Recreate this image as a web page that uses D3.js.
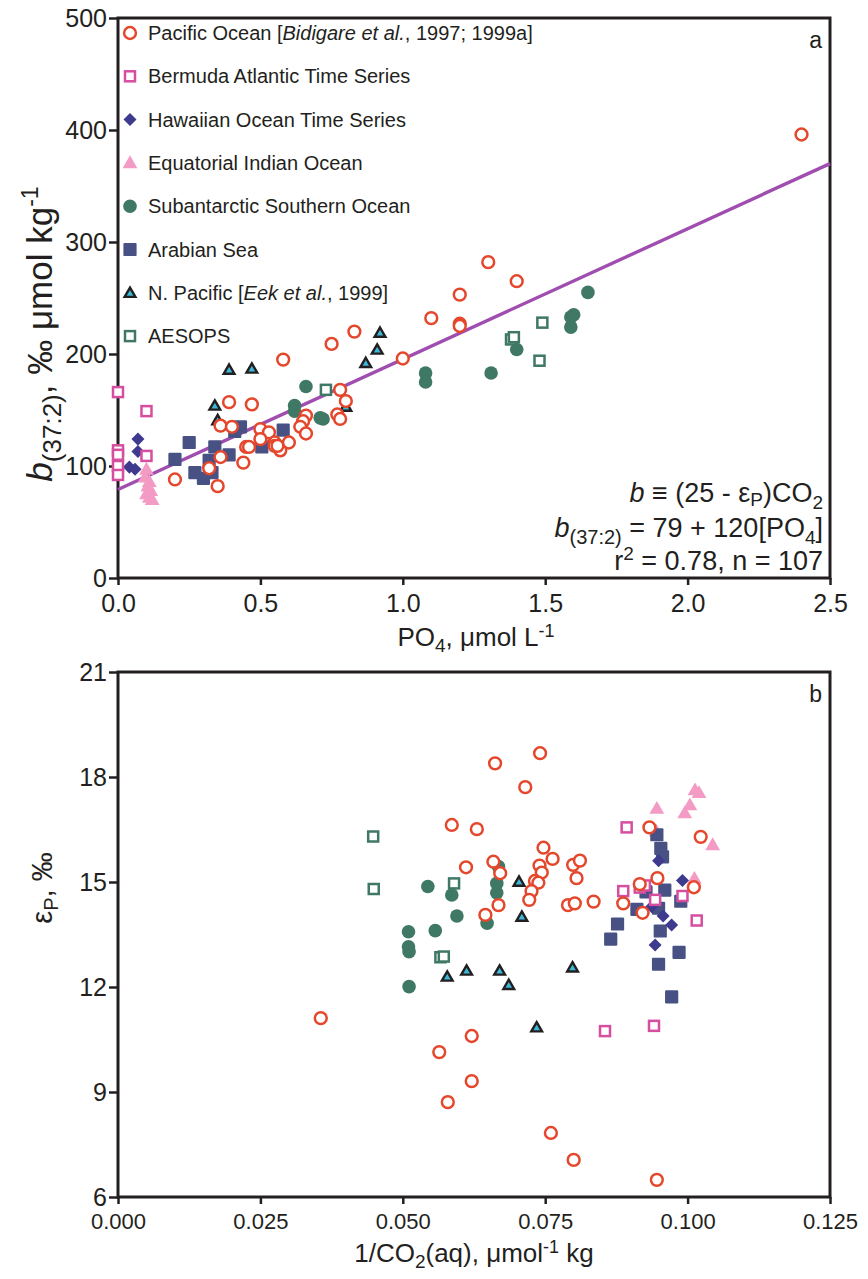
<!DOCTYPE html>
<html>
<head>
<meta charset="utf-8">
<script src="https://cdn.jsdelivr.net/npm/d3@7"></script>
<style>
  body { margin: 0; background: #fff; }
  svg { font-family: "Liberation Sans", Arial, Helvetica, sans-serif; }
  .tick text { fill: #231f20; }
  .tick line { stroke: #231f20; stroke-width: 2.5; }
</style>
</head>
<body>
<svg id="chart" width="868" height="1279"></svg>
<script>
// ---- data ----
// panel a: PO4 (umol/L) vs b(37:2)
const pacificA = [[2.40,396],[1.30,282],[1.40,265],[1.20,253],[1.10,232],[1.20,227],[1.20,225],[0.83,220],
  [0.75,209],[0.58,195],[1.00,196],[0.39,157],[0.47,155],[0.78,168],[0.80,158],[0.77,146],[0.78,142],
  [0.36,136],[0.40,135],[0.66,145],[0.65,140],[0.64,135],[0.66,129],[0.50,133],[0.53,130],[0.50,124],
  [0.45,117],[0.46,117],[0.55,121],[0.55,118],[0.57,114],[0.60,121],[0.56,118],[0.36,108],[0.44,103],
  [0.32,98],[0.20,88],[0.35,82]];
const bermudaA = [[0,166],[0.10,149],[0,114],[0,110],[0,100],[0,92],[0.10,109]];
const hawaiiA = [[0.07,124],[0.07,113],[0.04,99],[0.06,97]];
const indianA = [[0.10,97],[0.095,90],[0.11,86],[0.105,82],[0.115,78],[0.10,75],[0.11,72],[0.12,70]];
const southernA = [[0.66,171],[0.62,154],[0.62,149],[0.71,143],[0.72,142],[1.08,183],[1.08,175],
  [1.31,183],[1.40,204],[1.59,224],[1.59,233],[1.60,235],[1.65,255]];
const arabianA = [[0.25,121],[0.34,117],[0.41,131],[0.43,135],[0.58,132],[0.505,117],[0.39,110],
  [0.32,105],[0.33,94],[0.27,94],[0.30,89],[0.20,106]];
const nPacificA = [[0.39,186],[0.47,187],[0.34,154],[0.35,141],[0.92,219],[0.91,204],[0.87,192],[0.80,153]];
const aesopsA = [[0.73,168],[1.38,213],[1.39,215],[1.49,228],[1.48,194]];
const fitLine = [[0, 79], [2.5, 370]];

// panel b: 1/CO2(aq) vs epsilon_P
const pacificB = [[0.0356,11.11],[0.0564,10.14],[0.0579,8.71],[0.0621,10.6],[0.0621,9.31],[0.0662,18.39],
  [0.0741,18.68],[0.0715,17.71],[0.0760,7.83],[0.0800,7.06],[0.0946,6.49],[0.0586,16.63],[0.0630,16.51],
  [0.0611,15.42],[0.0659,15.58],[0.0671,15.25],[0.0645,14.06],[0.0668,14.34],[0.0747,15.98],[0.0763,15.66],
  [0.0740,15.47],[0.0744,15.27],[0.0732,15.03],[0.0738,14.98],[0.0726,14.74],[0.0722,14.49],[0.0799,15.49],
  [0.0811,15.61],[0.0805,15.11],[0.0790,14.34],[0.0802,14.39],[0.0835,14.44],[0.0933,16.56],[0.1023,16.29],
  [0.0947,15.11],[0.0916,14.94],[0.0887,14.39],[0.0921,14.12],[0.1011,14.85]];
const bermudaB = [[0.0893,16.56],[0.0887,14.74],[0.0916,14.84],[0.0925,14.9],[0.0943,14.49],[0.0991,14.6],
  [0.1016,13.9],[0.0855,10.74],[0.0941,10.89]];
const hawaiiB = [[0.0949,15.61],[0.0991,15.04],[0.0957,14.03],[0.0972,13.77],[0.0943,13.2],[0.0937,14.29]];
const indianB = [[0.0946,17.1],[0.1013,17.63],[0.1020,17.55],[0.1004,17.2],[0.0995,16.97],[0.1044,16.06],
  [0.0945,16.45],[0.1012,15.1]];
const southernB = [[0.0544,14.87],[0.0586,14.63],[0.0595,14.03],[0.0510,13.58],[0.0557,13.61],[0.0510,13.15],
  [0.0511,13.01],[0.0511,12.01],[0.0648,13.82],[0.0665,14.96],[0.0665,14.69],[0.0668,15.44]];
const aesopsB = [[0.0448,16.3],[0.0449,14.8],[0.0590,14.96],[0.0566,12.85],[0.0572,12.87]];
const nPacificB = [[0.0578,12.3],[0.0612,12.47],[0.0670,12.47],[0.0686,12.06],[0.0704,15.01],[0.0709,14.01],
  [0.0798,12.56],[0.0735,10.85]];
const arabianB = [[0.0946,16.35],[0.0953,15.96],[0.0956,15.72],[0.0960,14.77],[0.0988,14.45],[0.0911,14.22],
  [0.0927,14.72],[0.0949,14.25],[0.0877,13.8],[0.0865,13.37],[0.0952,13.6],[0.0985,12.99],[0.0949,12.65],
  [0.0972,11.72]];

const ticksA_x = [0, 0.5, 1.0, 1.5, 2.0, 2.5];
const ticksA_y = [0, 100, 200, 300, 400, 500];
const ticksB_x = [0, 0.025, 0.05, 0.075, 0.1, 0.125];
const ticksB_y = [6, 9, 12, 15, 18, 21];

// ---- series styles (legend order) ----
const series = [
  { key: "pacific",  label: null, shape: "circle", fill: "#fff", stroke: "#e4472b" },
  { key: "bermuda",  label: "Bermuda Atlantic Time Series", shape: "square", fill: "#fff", stroke: "#d64ea0" },
  { key: "hawaii",   label: "Hawaiian Ocean Time Series", shape: "diamond", fill: "#3e3a8e", stroke: "none" },
  { key: "indian",   label: "Equatorial Indian Ocean", shape: "triangle", fill: "#f39bc4", stroke: "none" },
  { key: "southern", label: "Subantarctic Southern Ocean", shape: "dot", fill: "#3f7865", stroke: "none" },
  { key: "arabian",  label: "Arabian Sea", shape: "fsquare", fill: "#485184", stroke: "none" },
  { key: "npacific", label: null, shape: "triangle", fill: "#3cb9da", stroke: "#231f20" },
  { key: "aesops",   label: "AESOPS", shape: "square", fill: "#fff", stroke: "#3f7865" }
];
const dataA = { pacific: pacificA, bermuda: bermudaA, hawaii: hawaiiA, indian: indianA,
  southern: southernA, arabian: arabianA, npacific: nPacificA, aesops: aesopsA };
const dataB = { pacific: pacificB, bermuda: bermudaB, hawaii: hawaiiB, indian: indianB,
  southern: southernB, arabian: arabianB, npacific: nPacificB, aesops: aesopsB };
// drawing order so that the open red circles sit on top
const drawOrder = ["indian", "arabian", "hawaii", "southern", "aesops", "npacific", "bermuda", "pacific"];
const styleOf = Object.fromEntries(series.map(s => [s.key, s]));

const svg = d3.select("#chart");
const ink = "#231f20";

function drawMarker(g, shape, fill, stroke) {
  if (shape === "circle") {
    g.append("circle").attr("r", 5.9).attr("fill", fill).attr("stroke", stroke).attr("stroke-width", 2.5);
  } else if (shape === "dot") {
    g.append("circle").attr("r", 6.8).attr("fill", fill);
  } else if (shape === "square") {
    g.append("rect").attr("x", -5).attr("y", -5).attr("width", 10).attr("height", 10)
      .attr("fill", fill).attr("stroke", stroke).attr("stroke-width", 2.5);
  } else if (shape === "fsquare") {
    g.append("rect").attr("x", -6.6).attr("y", -6.6).attr("width", 13.2).attr("height", 13.2)
      .attr("rx", 1.2).attr("fill", fill);
  } else if (shape === "diamond") {
    g.append("rect").attr("x", -4.6).attr("y", -4.6).attr("width", 9.2).attr("height", 9.2)
      .attr("transform", "rotate(45)").attr("fill", fill);
  } else if (shape === "triangle") {
    const outlined = stroke !== "none";
    const sym = d3.symbol().type(d3.symbolTriangle).size(outlined ? 50 : 95);
    g.append("path").attr("d", sym()).attr("transform", "translate(0,1)")
      .attr("fill", fill).attr("stroke", stroke).attr("stroke-width", outlined ? 2.4 : 0)
      .attr("stroke-linejoin", "miter");
  }
}

function panel(opts) {
  const { x, y, xticks, yticks, xfmt, yfmt, data } = opts;
  const g = svg.append("g");
  const [x0, x1] = x.range();
  const [y0, y1] = y.range();

  g.append("g").attr("transform", `translate(${x0},0)`)
    .call(d3.axisLeft(y).tickValues(yticks).tickFormat(yfmt).tickSize(9).tickPadding(2).tickSizeOuter(0))
    .call(a => a.select(".domain").remove())
    .call(a => a.selectAll("text").style("font-size", opts.yFont + "px"));
  g.append("g").attr("transform", `translate(0,${y0})`)
    .call(d3.axisBottom(x).tickValues(xticks).tickFormat(xfmt).tickSize(7).tickPadding(opts.xPad).tickSizeOuter(0))
    .call(a => a.select(".domain").remove())
    .call(a => a.selectAll("text").style("font-size", opts.xFont + "px"));

  g.append("rect").attr("x", x0).attr("y", y1).attr("width", x1 - x0).attr("height", y0 - y1)
    .attr("fill", "none").attr("stroke", ink).attr("stroke-width", 3);

  if (opts.fit) {
    g.append("line")
      .attr("x1", x(opts.fit[0][0])).attr("y1", y(opts.fit[0][1]))
      .attr("x2", x(opts.fit[1][0])).attr("y2", y(opts.fit[1][1]))
      .attr("stroke", "#a04db0").attr("stroke-width", 3.4);
  }

  drawOrder.forEach(k => {
    const s = styleOf[k];
    data[k].forEach(d => {
      const m = g.append("g").attr("transform", `translate(${x(d[0])},${y(d[1])})`);
      drawMarker(m, s.shape, s.fill, s.stroke);
    });
  });
  return g;
}

// ---- panel a ----
const xA = d3.scaleLinear().domain([0, 2.5]).range([118, 830]);
const yA = d3.scaleLinear().domain([0, 500]).range([578, 18]);
panel({ x: xA, y: yA, xticks: ticksA_x, yticks: ticksA_y, xfmt: d3.format(".1f"), yfmt: d3.format("d"),
  data: dataA, fit: fitLine, xFont: 25, yFont: 25, xPad: 9 });

// ---- panel b ----
const xB = d3.scaleLinear().domain([0, 0.125]).range([118, 830]);
const yB = d3.scaleLinear().domain([6, 21]).range([1197, 672]);
panel({ x: xB, y: yB, xticks: ticksB_x, yticks: ticksB_y, xfmt: d3.format(".3f"), yfmt: d3.format("d"),
  data: dataB, xFont: 22, yFont: 25, xPad: 9 });

// ---- legend ----
const legend = svg.append("g").attr("font-size", 20).attr("fill", ink);
series.forEach((s, i) => {
  const cy = 33 + i * 43.3;
  const m = legend.append("g").attr("transform", `translate(130,${cy})`);
  drawMarker(m, s.shape, s.fill, s.stroke);
  const t = legend.append("text").attr("x", 148).attr("y", cy + 7);
  if (s.key === "pacific") {
    t.append("tspan").text("Pacific Ocean [");
    t.append("tspan").attr("font-style", "italic").text("Bidigare et al.");
    t.append("tspan").text(", 1997; 1999a]");
  } else if (s.key === "npacific") {
    t.append("tspan").text("N. Pacific [");
    t.append("tspan").attr("font-style", "italic").text("Eek et al.");
    t.append("tspan").text(", 1999]");
  } else {
    t.text(s.label);
  }
});

// ---- panel letters ----
svg.append("text").attr("x", 822).attr("y", 48).attr("text-anchor", "end").attr("font-size", 23)
  .attr("fill", ink).text("a");
svg.append("text").attr("x", 822).attr("y", 702).attr("text-anchor", "end").attr("font-size", 23)
  .attr("fill", ink).text("b");

// ---- equation block ----
const eq = svg.append("g").attr("font-size", 27).attr("fill", ink).attr("text-anchor", "end");
const e1 = eq.append("text").attr("x", 823).attr("y", 502);
e1.append("tspan").attr("font-style", "italic").text("b");
e1.append("tspan").text(" ≡ (25 - ε");
e1.append("tspan").attr("font-size", 19).attr("dy", 4).text("P");
e1.append("tspan").attr("dy", -4).text(")CO");
e1.append("tspan").attr("font-size", 19).attr("dy", 7).text("2");
const e2 = eq.append("text").attr("x", 823).attr("y", 537);
e2.append("tspan").attr("font-style", "italic").text("b");
e2.append("tspan").attr("font-size", 20).attr("dy", 7).text("(37:2)");
e2.append("tspan").attr("dy", -7).text(" = 79 + 120[PO");
e2.append("tspan").attr("font-size", 19).attr("dy", 7).text("4");
e2.append("tspan").attr("dy", -7).text("]");
const e3 = eq.append("text").attr("x", 823).attr("y", 570);
e3.append("tspan").text("r");
e3.append("tspan").attr("font-size", 19).attr("dy", -10).text("2");
e3.append("tspan").attr("dy", 10).text(" = 0.78, n = 107");

// ---- axis titles ----
const tA = svg.append("text").attr("font-size", 35).attr("fill", ink).attr("text-anchor", "middle")
  .attr("transform", "translate(52,334) rotate(-90)");
tA.append("tspan").attr("font-style", "italic").text("b");
tA.append("tspan").attr("font-size", 26).attr("dy", 9).text("(37:2)");
tA.append("tspan").attr("dy", -9).text(", ‰ μmol kg");
tA.append("tspan").attr("font-size", 23).attr("dy", -14).text("-1");

const xAt = svg.append("text").attr("font-size", 26).attr("fill", ink).attr("text-anchor", "middle")
  .attr("x", 476).attr("y", 646);
xAt.append("tspan").text("PO");
xAt.append("tspan").attr("font-size", 19).attr("dy", 6).text("4");
xAt.append("tspan").attr("dy", -6).text(", μmol L");
xAt.append("tspan").attr("font-size", 18).attr("dy", -9).text("-1");

const tB = svg.append("text").attr("font-size", 29).attr("fill", ink).attr("text-anchor", "middle")
  .attr("transform", "translate(52,888) rotate(-90)");
tB.append("tspan").text("ε");
tB.append("tspan").attr("font-size", 20).attr("dy", 6).text("P");
tB.append("tspan").attr("dy", -6).text(", ‰");

const xBt = svg.append("text").attr("font-size", 26).attr("fill", ink).attr("text-anchor", "middle")
  .attr("x", 474).attr("y", 1262);
xBt.append("tspan").text("1/CO");
xBt.append("tspan").attr("font-size", 19).attr("dy", 6).text("2");
xBt.append("tspan").attr("dy", -6).text("(aq), μmol");
xBt.append("tspan").attr("font-size", 18).attr("dy", -9).text("-1");
xBt.append("tspan").attr("dy", 9).text(" kg");
</script>
</body>
</html>
